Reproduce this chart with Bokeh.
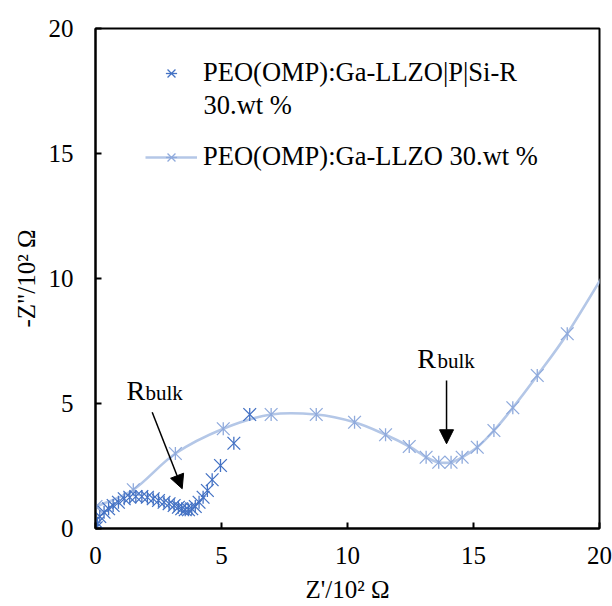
import numpy as np
from bokeh.plotting import figure
from bokeh.models import Range1d, Legend, LegendItem, Arrow, NormalHead, Label, FixedTicker
from bokeh.embed import file_html
from bokeh.resources import INLINE

# ---- data (Z' and -Z'' in 10^2 ohm) ----
si_r_x = [0.03, 0.08, 0.17, 0.34, 0.52, 0.70, 0.91, 1.14, 1.36, 1.60, 1.84, 2.06, 2.29, 2.50,
          2.72, 2.92, 3.12, 3.29, 3.42, 3.56, 3.69, 3.82, 3.96, 4.11, 4.27, 4.44, 4.63, 4.96,
          5.49, 6.12]
si_r_y = [0.03, 0.21, 0.48, 0.65, 0.79, 0.92, 1.05, 1.19, 1.25, 1.28, 1.28, 1.25, 1.19, 1.12,
          1.05, 0.99, 0.92, 0.85, 0.79, 0.75, 0.75, 0.79, 0.88, 1.05, 1.25, 1.52, 1.95, 2.52,
          3.41, 4.56]

ref_x = [0.02, 1.50, 3.17, 5.07, 6.97, 8.76, 10.28, 11.51, 12.45, 13.12, 13.62, 14.11, 14.55,
         15.15, 15.81, 16.56, 17.53, 18.72, 20.40]
ref_y = [0.88, 1.55, 3.00, 3.99, 4.56, 4.56, 4.25, 3.75, 3.28, 2.85, 2.65, 2.65, 2.85,
         3.25, 3.92, 4.83, 6.12, 7.79, 10.55]

x_ticks = [0, 5, 10, 15, 20]
y_ticks = [0, 5, 10, 15, 20]
series_labels = ["PEO(OMP):Ga-LLZO|P|Si-R", "PEO(OMP):Ga-LLZO 30.wt %"]
series_label_cont = "30.wt %"

DARK = "#4472C4"
LIGHT = "#8FAADC"
LIGHT_LINE = "#B4C7E7"
FONT = "Liberation Serif"

p = figure(width=612, height=606, output_backend="svg", toolbar_location=None,
           x_range=Range1d(0, 20), y_range=Range1d(0, 20),
           min_border_left=95, min_border_right=13, min_border_top=28, min_border_bottom=78)
p.grid.visible = False
p.outline_line_color = "black"
p.outline_line_width = 2
p.background_fill_color = "white"
p.border_fill_color = "white"

# smooth (Excel-like) curve through reference series via Catmull-Rom -> Bezier
P = np.column_stack([ref_x, ref_y])
n = len(P)
x0s, y0s, x1s, y1s, cx0, cy0, cx1, cy1 = [], [], [], [], [], [], [], []
for i in range(n - 1):
    p0 = P[i - 1] if i > 0 else P[i]
    p1 = P[i]
    p2 = P[i + 1]
    p3 = P[i + 2] if i + 2 < n else P[i + 1]
    c1 = p1 + (p2 - p0) / 6.0
    c2 = p2 - (p3 - p1) / 6.0
    x0s.append(p1[0]); y0s.append(p1[1]); x1s.append(p2[0]); y1s.append(p2[1])
    cx0.append(c1[0]); cy0.append(c1[1]); cx1.append(c2[0]); cy1.append(c2[1])
p.bezier(x0=x0s, y0=y0s, x1=x1s, y1=y1s, cx0=cx0, cy0=cy0, cx1=cx1, cy1=cy1,
         line_color=LIGHT_LINE, line_width=2.6)
# hidden polyline only used for the legend swatch
r_ref_line = p.line(ref_x, ref_y, line_color=LIGHT_LINE, line_width=2.6, visible=False)


def star(xs, ys, color):
    """Excel-style star marker: an X plus a vertical bar."""
    a = p.scatter(xs, ys, marker="x", size=18, line_color=color, line_width=1.3)
    b = p.scatter(xs, ys, marker="dash", size=13, angle=np.pi / 2, line_color=color, line_width=1.3)
    return [a, b]


r_ref_pts = star(ref_x, ref_y, LIGHT)
r_si = star(si_r_x, si_r_y, DARK)

legend = Legend(items=[LegendItem(label=series_labels[0], renderers=r_si),
                       LegendItem(label=series_labels[1], renderers=[r_ref_line] + r_ref_pts)],
                location=(50, 356), orientation="vertical",
                label_text_font=FONT, label_text_font_size="26.5px", label_text_color="black",
                glyph_width=52, glyph_height=28, label_standoff=6, spacing=53,
                padding=0, margin=0, border_line_alpha=0, background_fill_alpha=0)
p.add_layout(legend)
p.add_layout(Label(x=4.29, y=16.96, text=series_label_cont, text_font=FONT,
                   text_font_size="26.5px", text_color="black", text_baseline="middle"))

# axes
for ax, ticks in ((p.xaxis, x_ticks), (p.yaxis, y_ticks)):
    ax.ticker = FixedTicker(ticks=ticks)
    ax.minor_tick_line_color = None
    ax.major_tick_in = 6
    ax.major_tick_out = 0
    ax.major_tick_line_width = 2
    ax.axis_line_width = 2
    ax.axis_line_color = "black"
    ax.major_tick_line_color = "black"
    ax.major_label_text_font = FONT
    ax.major_label_text_font_size = "25px"
    ax.major_label_text_color = "black"
    ax.axis_label_text_font = FONT
    ax.axis_label_text_font_size = "25px"
    ax.axis_label_text_font_style = "normal"
    ax.axis_label_text_color = "black"
p.xaxis.axis_label = "Z'/10² Ω"
p.yaxis.axis_label = "-Z\"/10² Ω"
p.xaxis.major_label_standoff = 18
p.yaxis.major_label_standoff = 22
p.xaxis.axis_label_standoff = 9
p.yaxis.axis_label_standoff = 6

# annotations
for (rx, ry, bx, by) in ((1.23, 5.52, 1.98, 5.44), (12.77, 6.80, 13.57, 6.72)):
    p.add_layout(Label(x=rx, y=ry, text="R", text_font=FONT, text_font_size="28px",
                       text_color="black", text_baseline="alphabetic"))
    p.add_layout(Label(x=bx, y=by, text="bulk", text_font=FONT, text_font_size="21px",
                       text_color="black", text_baseline="alphabetic"))
for (xs, ys, xe, ye) in ((2.25, 4.65, 3.44, 1.59), (13.93, 5.92, 13.93, 3.39)):
    p.add_layout(Arrow(end=NormalHead(size=14, fill_color="black", line_color="black"),
                       x_start=xs, y_start=ys, x_end=xe, y_end=ye,
                       line_color="black", line_width=1.5))

open("out.html", "w").write(file_html(p, INLINE))
